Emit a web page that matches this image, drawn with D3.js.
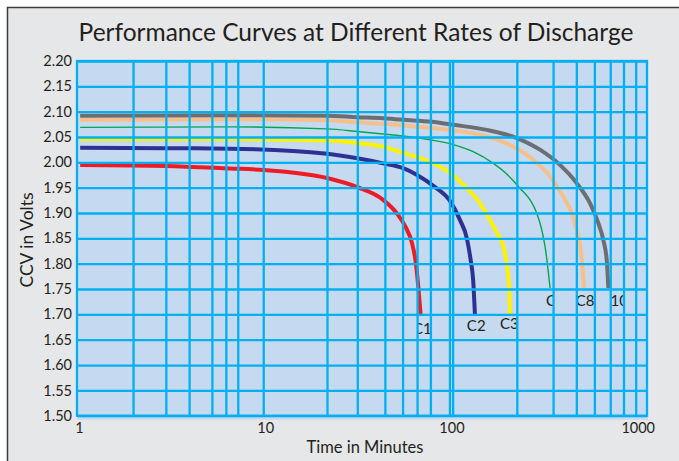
<!DOCTYPE html>
<html>
<head>
<meta charset="utf-8">
<script src="https://cdn.jsdelivr.net/npm/d3@7"></script>
<style>
    body { margin: 0; background: #fff; }
    svg { display: block; }
    text { font-family: Lato, "Open Sans", sans-serif; fill: #231f20; }
</style>
</head>
<body>
<div class="canva"></div>
<script>
// values (time in minutes, voltage in volts)
const seriesNames = ["C1", "C2", "C3", "C5", "C8", "C10"];
const seriesColors = ["#ed1c24", "#2e3192", "#fff200", "#00a651", "#f9bf8a", "#6d6e71"];

const c1 = [[1.04, 1.995], [3, 1.993], [6.6, 1.988], [10, 1.985], [22, 1.969], [32, 1.951], [44, 1.926],
    [52, 1.900], [58, 1.873], [63, 1.840], [66, 1.801], [68, 1.755], [70, 1.700]];
const c2 = [[1.04, 2.029], [3, 2.028], [6.6, 2.027], [22, 2.017], [32, 2.008], [44, 1.998], [56, 1.989],
    [67, 1.975], [83, 1.952], [101, 1.923], [114, 1.886], [124, 1.850], [130, 1.807], [134, 1.768], [137, 1.700]];
const c3 = [[1.04, 2.046], [6.6, 2.046], [22, 2.043], [32, 2.038], [44, 2.031], [54, 2.021], [82, 1.998],
    [101, 1.979], [124, 1.949], [146, 1.919], [165, 1.886], [180, 1.860], [195, 1.834], [204, 1.794],
    [209, 1.755], [211, 1.700]];
const c5 = [[1.04, 2.069], [6.6, 2.070], [22, 2.066], [32, 2.061], [44, 2.056], [56, 2.052], [80, 2.044],
    [105, 2.035], [134, 2.021], [172, 1.998], [203, 1.977], [239, 1.949], [271, 1.926], [294, 1.900],
    [313, 1.867], [326, 1.834], [337, 1.794], [347, 1.752]];
const c8 = [[1.04, 2.084], [6.6, 2.085], [22, 2.083], [32, 2.079], [44, 2.076], [56, 2.073], [80, 2.068],
    [105, 2.063], [159, 2.051], [220, 2.031], [282, 2.005], [347, 1.972], [409, 1.932], [453, 1.900],
    [482, 1.867], [507, 1.827], [519, 1.788], [528, 1.752]];
const c10 = [[1.04, 2.092], [6.6, 2.093], [22, 2.092], [32, 2.089], [44, 2.087], [56, 2.084], [80, 2.080],
    [105, 2.074], [159, 2.064], [230, 2.048], [306, 2.025], [392, 1.995], [482, 1.959], [569, 1.919],
    [630, 1.880], [670, 1.847], [699, 1.807], [713, 1.752]];

const xTickLabels = [1, 10, 100, 1000];
const yTickLabels = [1.50, 1.55, 1.60, 1.65, 1.70, 1.75, 1.80, 1.85, 1.90, 1.95, 2.00, 2.05, 2.10, 2.15, 2.20];
const gridMinutes = [2, 3, 4, 5.3, 6.3, 7.3, 10, 22, 32, 45, 56, 67, 79, 100, 104, 230, 360, 480, 600, 730, 860, 1000];

// where each curve label sits (minutes, volts) and the grid cell it is cut to
const labelAt = [[63.7, 1.661], [124, 1.667], [187, 1.671], [330, 1.717], [477, 1.717], [648, 1.717]];
const labelCell = [[67, 79], [104, 230], [104, 230], [230, 360], [480, 600], [730, 860]];

const width = 679, height = 461;
const plot = { left: 77, top: 61, right: 647, bottom: 415.7 };
const gridColor = "#00b0f0";

const svg = d3.select(".canva").append("svg")
    .attr("width", width)
    .attr("height", height);

// outer frame
svg.append("rect")
    .attr("x", 7).attr("y", 7)
    .attr("width", width - 7).attr("height", height - 7)
    .attr("fill", "#e6e7e9");
svg.append("path")
    .attr("d", `M7.5,${height} V7.5 H${width}`)
    .attr("fill", "none")
    .attr("stroke", "#3a3a3a")
    .attr("stroke-width", 1.5);

const x = d3.scaleLog()
    .domain([1, 1150])
    .range([plot.left, plot.right]);

const y = d3.scaleLinear()
    .domain([1.5, 2.2])
    .range([plot.bottom, plot.top]);

// plot background
svg.append("rect")
    .attr("x", plot.left)
    .attr("y", plot.top)
    .attr("width", plot.right - plot.left + 1)
    .attr("height", plot.bottom - plot.top + 4)
    .attr("fill", "#c5d9f1");

// curves
const series = [c1, c2, c3, c5, c8, c10];
const line = d3.line()
    .x(d => x(d[0]))
    .y(d => y(d[1]))
    .curve(d3.curveMonotoneX);

svg.append("g").selectAll("path")
    .data(series)
    .enter()
    .append("path")
    .attr("fill", "none")
    .attr("stroke", (d, i) => seriesColors[i])
    .attr("stroke-width", (d, i) => seriesNames[i] === "C5" ? 1.4 : 4)
    .attr("d", line);

const plotH = plot.bottom - plot.top;
const plotW = plot.right - plot.left;

// curve labels, each cut to its grid cell (the grid is drawn over them)
const defs = svg.append("defs");
seriesNames.forEach((name, i) => {
    const cell = labelCell[i];
    defs.append("clipPath")
        .attr("id", `cell-${name}`)
        .append("rect")
        .attr("x", x(cell[0]))
        .attr("y", plot.top)
        .attr("width", x(cell[1]) - x(cell[0]))
        .attr("height", plotH);

    svg.append("text")
        .attr("clip-path", `url(#cell-${name})`)
        .attr("x", x(labelAt[i][0]))
        .attr("y", y(labelAt[i][1]))
        .style("font-size", "15px")
        .text(name);
});

// grid sits on top of the curves, like the original
const xGrid = svg.append("g")
    .attr("transform", `translate(0, ${plot.bottom})`)
    .call(d3.axisBottom(x).tickValues(gridMinutes).tickSize(-plotH).tickFormat(""));
const yGrid = svg.append("g")
    .attr("transform", `translate(${plot.left}, 0)`)
    .call(d3.axisLeft(y).tickValues(yTickLabels).tickSize(-plotW).tickFormat(""));

[xGrid, yGrid].forEach(g => {
    g.select(".domain").remove();
    g.selectAll("line").attr("stroke", gridColor).attr("stroke-width", 2.3);
});

svg.append("rect")
    .attr("x", plot.left)
    .attr("y", plot.top)
    .attr("width", plotW)
    .attr("height", plotH)
    .attr("fill", "none")
    .attr("stroke", gridColor)
    .attr("stroke-width", 2.3);

// tick labels
const xAxisGroup = svg.append("g")
    .attr("transform", `translate(0, ${plot.bottom})`)
    .call(d3.axisBottom(x).tickValues(xTickLabels).tickSize(0).tickPadding(7).tickFormat(d3.format("d")));
const yAxisGroup = svg.append("g")
    .attr("transform", `translate(${plot.left}, 0)`)
    .call(d3.axisLeft(y).tickValues(yTickLabels).tickSize(0).tickPadding(5).tickFormat(d3.format(".2f")));

[xAxisGroup, yAxisGroup].forEach(g => {
    g.select(".domain").remove();
    g.selectAll("text")
        .style("font-family", "Lato, sans-serif")
        .style("font-size", "14.5px")
        .attr("fill", "#231f20");
});
xAxisGroup.selectAll("text").attr("dx", 2);

// titles
svg.append("text")
    .attr("x", 356)
    .attr("y", 41)
    .attr("text-anchor", "middle")
    .style("font-size", "24.5px")
    .text("Performance Curves at Different Rates of Discharge");

svg.append("text")
    .attr("x", 365)
    .attr("y", 453)
    .attr("text-anchor", "middle")
    .style("font-size", "16.5px")
    .text("Time in Minutes");

svg.append("text")
    .attr("x", -240)
    .attr("y", 33)
    .attr("text-anchor", "middle")
    .attr("transform", "rotate(-90)")
    .style("font-size", "17.5px")
    .text("CCV in Volts");
</script>
</body>
</html>
